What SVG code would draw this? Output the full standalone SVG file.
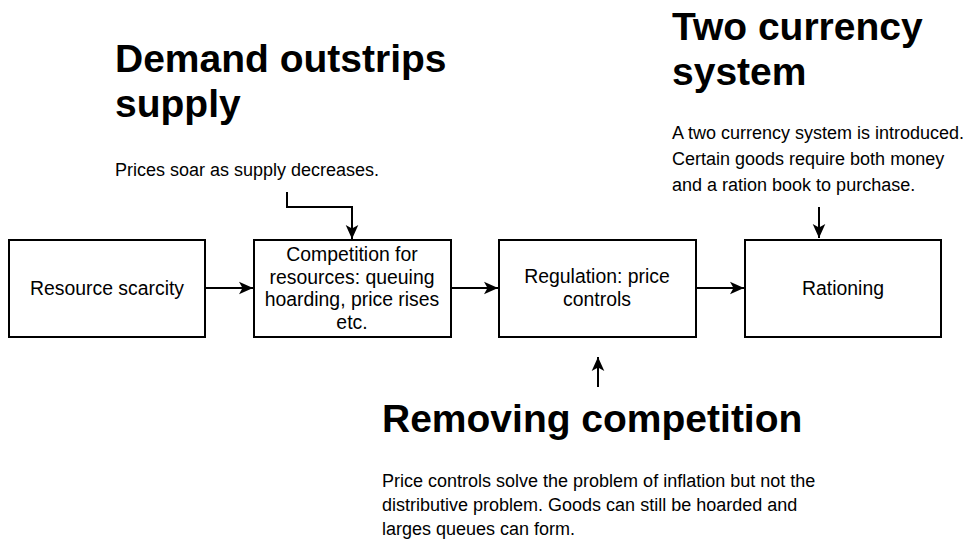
<svg xmlns="http://www.w3.org/2000/svg" width="967" height="540" viewBox="0 0 967 540">
<defs>
<marker id="ah" viewBox="0 0 10 10" refX="10" refY="5" markerWidth="14" markerHeight="14" markerUnits="userSpaceOnUse" orient="auto">
<path d="M0,0.5 L10,5 L0,9.5 L2.5,5 Z" fill="#000"/>
</marker>
<style>
.box{fill:#fff;stroke:#000;stroke-width:2}
.bt{font-family:"Liberation Sans",Arial,sans-serif;font-size:19.4px;fill:#000;text-anchor:middle}
.h{font-family:"Liberation Sans",Arial,sans-serif;font-size:39px;font-weight:bold;fill:#000}
.p{font-family:"Liberation Sans",Arial,sans-serif;font-size:18px;fill:#000}
.c{fill:none;stroke:#000;stroke-width:2;marker-end:url(#ah)}
</style>
</defs>
<rect width="967" height="540" fill="#fff"/>
<g id="n1"><rect class="box" x="9" y="240" width="196" height="97"/><text class="bt" x="107" y="295">Resource scarcity</text></g>
<g id="n2"><rect class="box" x="254" y="240" width="197" height="97"/>
<text class="bt" x="352" y="261">Competition for</text>
<text class="bt" x="352" y="283.5">resources: queuing</text>
<text class="bt" x="352" y="306">hoarding, price rises</text>
<text class="bt" x="352" y="328.5">etc.</text></g>
<g id="n3"><rect class="box" x="499" y="240" width="197" height="97"/>
<text class="bt" x="597" y="283">Regulation: price</text>
<text class="bt" x="597" y="306">controls</text></g>
<g id="n4"><rect class="box" x="745" y="240" width="196" height="97"/><text class="bt" x="843" y="295">Rationing</text></g>
<g id="t1"><text class="h" x="115" y="72">Demand outstrips</text><text class="h" x="115" y="117">supply</text>
<text class="p" x="115" y="176">Prices soar as supply decreases.</text></g>
<g id="t2"><text class="h" x="672" y="40">Two currency</text><text class="h" x="672" y="85">system</text>
<text class="p" x="672" y="139">A two currency system is introduced.</text>
<text class="p" x="672" y="165">Certain goods require both money</text>
<text class="p" x="672" y="191">and a ration book to purchase.</text></g>
<g id="t3"><text class="h" x="382" y="432">Removing competition</text>
<text class="p" x="382" y="487">Price controls solve the problem of inflation but not the</text>
<text class="p" x="382" y="511">distributive problem. Goods can still be hoarded and</text>
<text class="p" x="382" y="535">larges queues can form.</text></g>
<g id="connectors">
<path class="c" d="M205,288 H253"/>
<path class="c" d="M451,288 H498"/>
<path class="c" d="M696,288 H744"/>
<path class="c" d="M287,192 V207 H352 V239"/>
<path class="c" d="M819,207 V238"/>
<path class="c" d="M598,387 V357"/>
</g>
</svg>
